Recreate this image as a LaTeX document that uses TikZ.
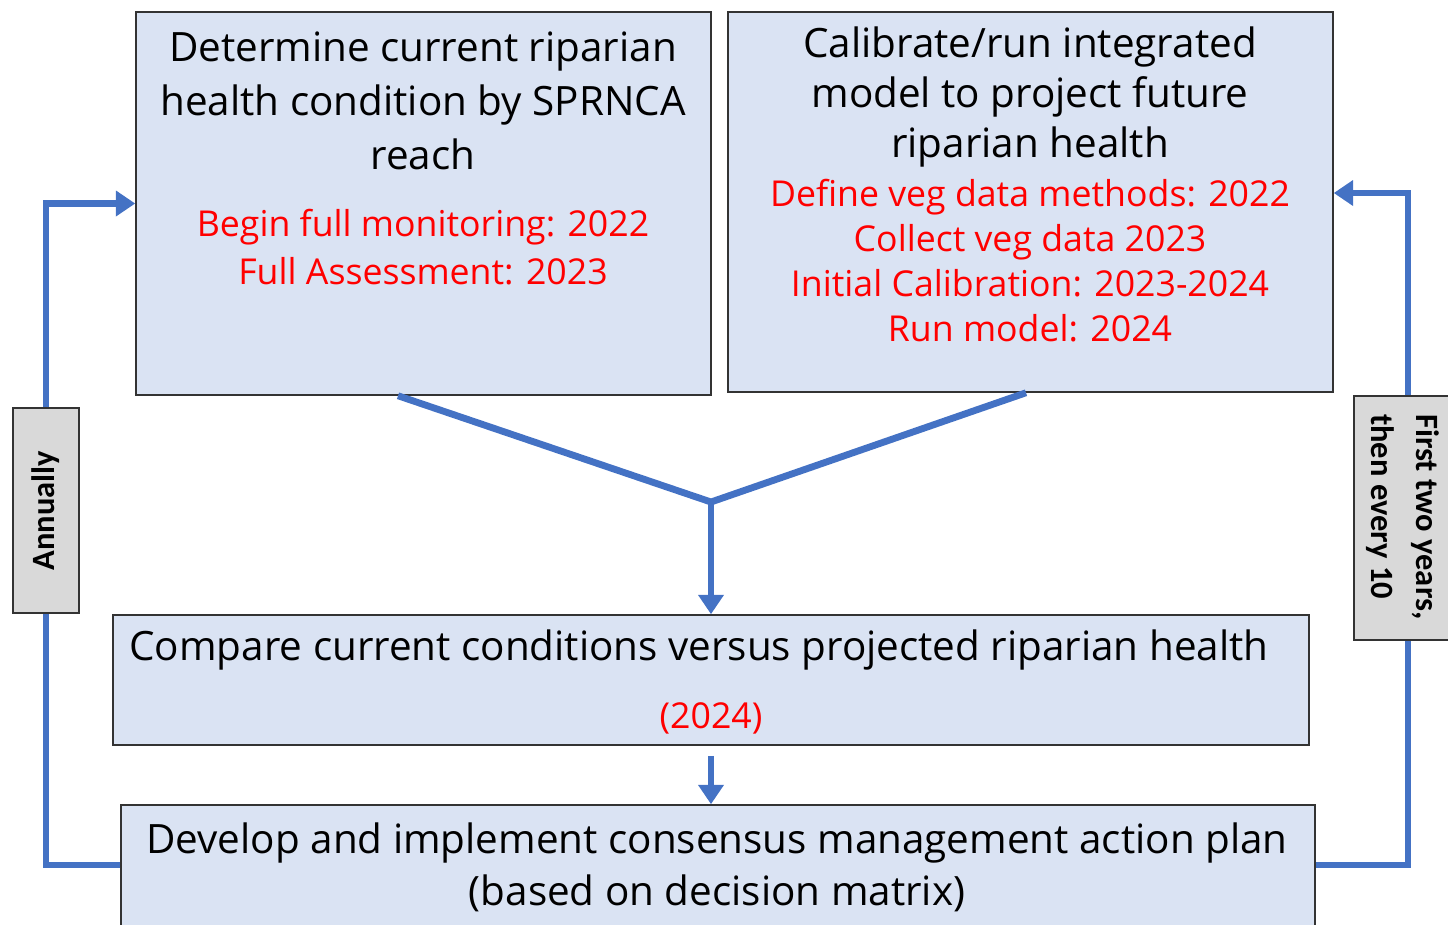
\documentclass[tikz,border=0pt]{standalone}
\usepackage{fontspec}
\setmainfont{Open Sans}
\newfontfamily\notefont{Carlito}
\usetikzlibrary{positioning,arrows.meta}
\definecolor{boxblue}{HTML}{DAE3F3}
\definecolor{flowblue}{HTML}{4472C4}
\definecolor{notegray}{HTML}{D9D9D9}

\begin{document}
\begin{tikzpicture}[x=0.02cm, y=-0.02cm,
    box/.style={draw=black!80, fill=boxblue, line width=0.9pt, inner sep=0pt},
    note/.style={draw=black!80, fill=notegray, line width=0.9pt, inner sep=0pt},
    notetext/.style={font=\notefont\bfseries\fontsize{18.5}{25.6}\selectfont},
    flow/.style={flowblue, line width=3.9pt},
    arrow/.style={flow, -{Triangle[width=14pt, length=11pt]}},
    body/.style={align=center, font=\fontsize{23}{30.6}\selectfont},
    dates/.style={align=center, text=red, font=\fontsize{20.3}{27.3}\selectfont}]
    \useasboundingbox (0,0) rectangle (1448,924);

    \node[box, minimum width=11.5cm, minimum height=7.66cm] (health) at (423.5,203.5) {};
    \node[box, minimum width=12.1cm, minimum height=7.6cm] (model) at (1030.5,202) {};
    \node[box, minimum width=23.92cm, minimum height=2.6cm] (compare) at (711,680) {};
    \node[box, minimum width=23.88cm, minimum height=2.8cm] (plan) at (718,875) {};

    \node[note, notetext, minimum width=1.32cm, minimum height=4.1cm] (annual) at (46,510.5) {\rotatebox{90}{Annually}};
    \node[note, minimum width=2.16cm, minimum height=4.88cm] (cycle) at (1408,518) {};
    \node[notetext, anchor=north] (cycletext) at (1403,408) {\rotatebox{-90}{\begin{tabular}{@{}l@{}}First two years,\\then every 10\end{tabular}}};

    \node[body] (healthtext) at (423,101) {Determine current riparian\\health condition by SPRNCA\\reach};
    \node[dates] (healthdates) at (423,247) {Begin full monitoring: 2022\\Full Assessment: 2023};
    \node[body, font=\fontsize{23}{28.5}\selectfont] (modeltext) at (1030,97) {Calibrate/run integrated\\model to project future\\riparian health};
    \node[dates, font=\fontsize{20.3}{25.6}\selectfont] (modeldates) at (1030,260.5) {Define veg data methods: 2022\\Collect veg data 2023\\Initial Calibration: 2023-2024\\Run model: 2024};
    \node[body] (comparetext) at (699,650) {Compare current conditions versus projected riparian health};
    \node[dates] (comparedate) at (711,718) {(2024)};
    \node[body, font=\fontsize{23}{29.6}\selectfont] (plantext) at (717,867) {Develop and implement consensus management action plan\\(based on decision matrix)};

    \coordinate (join) at (711,502);
    \draw[flow] ([xshift=-0.51cm]health.south) -- (join) -- ([xshift=-0.09cm]model.south);
    \draw[arrow] (join) -- (join |- compare.north);
    \draw[arrow] ([yshift=-0.2cm]compare.south) -- (compare.south |- plan.north);

    \draw[flow] ([yshift=0.2cm]plan.west) -| (annual.south);
    \draw[arrow] (annual.north) |- (health.west);
    \draw[flow] ([yshift=0.2cm]plan.east) -| (cycle.south);
    \draw[arrow] (cycle.north) |- ([yshift=0.18cm]model.east);
\end{tikzpicture}
\end{document}
